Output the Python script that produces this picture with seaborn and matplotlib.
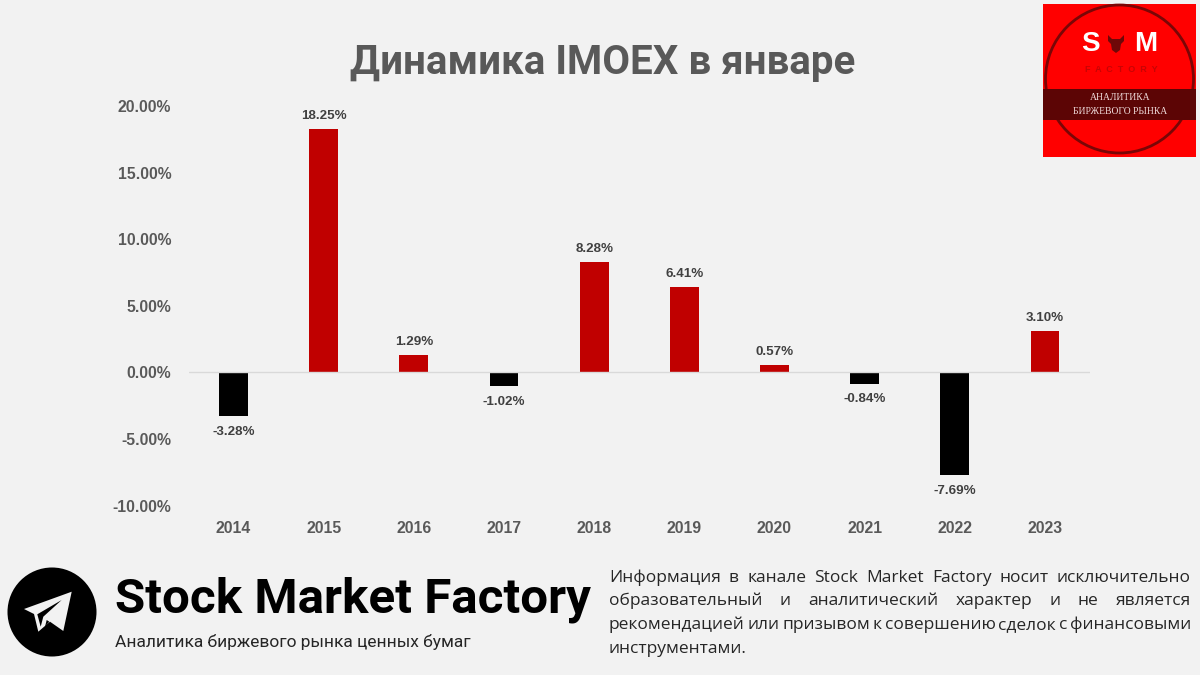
import matplotlib
matplotlib.use('Agg')
import matplotlib.pyplot as plt
from matplotlib.patches import Circle, Rectangle, Polygon
import pandas as pd
import seaborn as sns

# Data
years = ['2014', '2015', '2016', '2017', '2018', '2019', '2020', '2021', '2022', '2023']
changes = [-3.28, 18.25, 1.29, -1.02, 8.28, 6.41, 0.57, -0.84, -7.69, 3.10]
y_ticks = [-10, -5, 0, 5, 10, 15, 20]

title = 'Динамика IMOEX в январе'
brand = 'Stock Market Factory'
slogan = 'Аналитика биржевого рынка ценных бумаг'
note_lines = ['Информация в канале Stock Market Factory носит исключительно',
              'образовательный и аналитический характер и не является',
              'рекомендацией или призывом к совершению сделок с финансовыми',
              'инструментами.']

BG = '#F2F2F2'
W, H = 1200, 675

df = pd.DataFrame({'year': years, 'change': changes})
df['sign'] = ['up' if v > 0 else 'down' for v in changes]

sns.set_theme(style='white', rc={'figure.facecolor': BG, 'axes.facecolor': BG})
plt.rcParams['font.family'] = ['Liberation Sans', 'DejaVu Sans']

fig = plt.figure(figsize=(12, 6.75), dpi=100)
ax = fig.add_axes([188.5 / W, 1 - 505.5 / H, (1090 - 188.5) / W, (505.5 - 106) / H])

# Bars
sns.barplot(data=df, x='year', y='change', hue='sign', dodge=False, width=0.32, saturation=1,
            linewidth=0, palette={'up': '#C00000', 'down': '#000000'}, legend=False, ax=ax)
ax.set_xlim(-0.5, 9.5)
ax.set_ylim(-10, 20)
ax.set_xlabel('')
ax.set_ylabel('')
ax.set_yticks(y_ticks)
ax.set_yticklabels([f'{v:.2f}%' for v in y_ticks])
ax.tick_params(axis='y', length=0, pad=12.5, labelsize=11.3, labelcolor='#595959')
ax.tick_params(axis='x', length=0, pad=11, labelsize=11.3, labelcolor='#595959')
for lab in ax.get_xticklabels() + ax.get_yticklabels():
    lab.set_family('Liberation Sans')
    lab.set_fontweight('bold')
for s in ax.spines.values():
    s.set_visible(False)
ax.axhline(0, color='#D9D9D9', lw=1, zorder=1)

# Data labels
for i, v in enumerate(changes):
    off = 9.4 if v > 0 else -11.5
    ax.annotate(f'{v:.2f}%', (i, v), xytext=(0, off), textcoords='offset points',
                ha='center', va='center', fontsize=9.6, fontweight='bold', color='#404040')

# Overlay in pixel coordinates for title, footer and logo
ov = fig.add_axes([0, 0, 1, 1], facecolor='none')
ov.set_xlim(0, W)
ov.set_ylim(H, 0)
ov.axis('off')

ov.text(603, 63, title, ha='center', va='center', family='Roboto', fontweight='bold',
        fontsize=29, color='#595959')

# Logo
ov.add_patch(Rectangle((1043, 4), 153, 153, color='#FF0000', lw=0))
ov.add_patch(Circle((1119.5, 79), 74, fc='none', ec='#7A0606', lw=2))
ov.add_patch(Rectangle((1043, 89), 153, 31, color='#5C0505', lw=0))
ov.text(1090, 44, 'S', ha='center', va='center', color='white', fontweight='bold', fontsize=20)
ov.text(1146, 44, 'M', ha='center', va='center', color='white', fontweight='bold', fontsize=20)
ov.add_patch(Polygon([(1108, 35), (1112, 39), (1120, 39), (1124, 35), (1124, 41), (1121, 44),
                      (1120, 50), (1116, 53), (1112, 50), (1111, 44), (1108, 41)],
                     color='#6E0808', lw=0))
ov.text(1121, 69, 'F  A  C  T  O  R  Y', ha='center', va='center', color='#C80404',
        fontweight='bold', fontsize=6.5)
ov.text(1120, 98, 'АНАЛИТИКА', ha='center', va='center', color='#F0DCDC', family='Liberation Serif', fontsize=6.9)
ov.text(1120, 111, 'БИРЖЕВОГО РЫНКА', ha='center', va='center', color='#F0DCDC', family='Liberation Serif', fontsize=6.9)

# Telegram icon
ov.add_patch(Circle((52, 612), 44.5, color='black', lw=0))
ov.add_patch(Polygon([(71.7, 591.7), (24, 609), (34, 614), (38.3, 631.7), (50, 621.7), (63.3, 631)],
                     color=BG, lw=0))
ov.add_patch(Polygon([(61.7, 600), (37.3, 614.3), (40.7, 626.7), (43.3, 616.7)], color='black', lw=0))
ov.add_patch(Polygon([(45, 626.7), (49.3, 621.7), (46.7, 620)], color='black', lw=0))

# Footer
ov.text(115, 600, brand, ha='left', va='center', family='Roboto', fontweight='bold',
        fontsize=35.6, color='black')
ov.text(115, 642, slogan, ha='left', va='center', family='Roboto', fontsize=12.48, color='#262626')

# Justified note, word by word
renderer = fig.canvas.get_renderer()
note_left, note_right = 609, 1191
note_y = [578, 601, 625, 649]
for line, y in zip(note_lines, note_y):
    words = line.split(' ')
    items = [ov.text(0, y, w, ha='left', va='center', family='Open Sans', fontsize=12.5, color='#262626')
             for w in words]
    widths = [t.get_window_extent(renderer).width for t in items]
    if len(words) > 1:
        gap = (note_right - note_left - sum(widths)) / (len(words) - 1)
    else:
        gap = 0
    x = note_left
    for t, w in zip(items, widths):
        t.set_x(x)
        x += w + gap

fig.savefig('out.png', dpi=100, facecolor=BG)
